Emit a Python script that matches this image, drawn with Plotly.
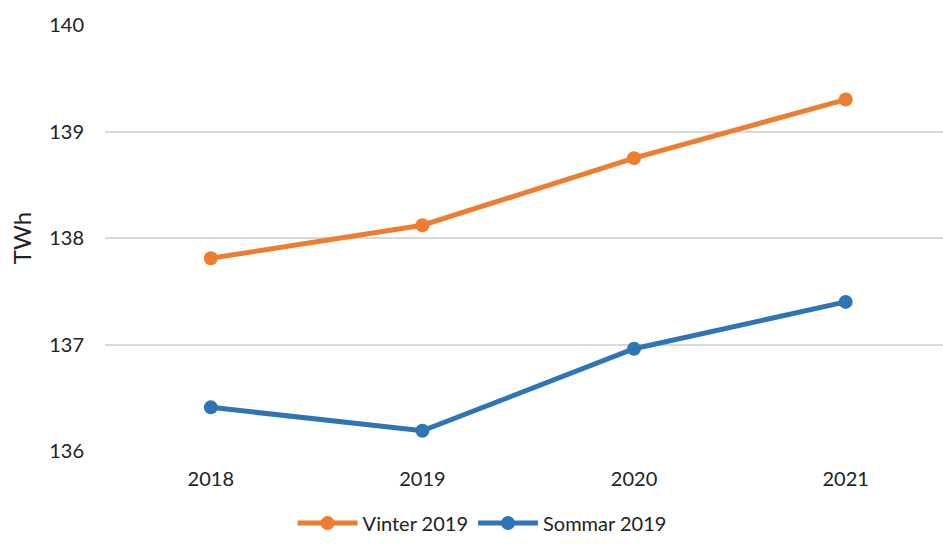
import plotly.graph_objects as go

years = ["2018", "2019", "2020", "2021"]
vinter = [137.81, 138.12, 138.75, 139.30]
sommar = [136.41, 136.19, 136.96, 137.40]
y_ticks = [136, 137, 138, 139, 140]

fig = go.Figure()
fig.add_trace(go.Scatter(x=years, y=vinter, name="Vinter 2019", mode="lines+markers",
                         line=dict(color="#ED7D31", width=5), marker=dict(size=14, color="#ED7D31")))
fig.add_trace(go.Scatter(x=years, y=sommar, name="Sommar 2019", mode="lines+markers",
                         line=dict(color="#2E75B6", width=5), marker=dict(size=14, color="#2E75B6")))

fig.update_layout(
    width=943, height=545,
    margin=dict(l=105, r=0, t=25, b=94),
    paper_bgcolor="white", plot_bgcolor="white",
    font=dict(family="Lato, Open Sans, sans-serif", size=20, color="#222"),
    xaxis=dict(type="category", range=[-0.5, 3.46], showgrid=False, showline=False,
               ticks="", tickfont=dict(size=20), ticklabelstandoff=14),
    yaxis=dict(range=[136, 140], tickvals=y_ticks, showgrid=True, gridcolor="#D9D9D9",
               gridwidth=2, zeroline=False, showline=False, ticks="", ticklen=0,
               ticklabelstandoff=20,
               title=dict(text="TWh", standoff=10), tickfont=dict(size=20)),
    legend=dict(orientation="h", x=0.45, xanchor="center", y=-0.215, yanchor="bottom",
                font=dict(size=20), itemwidth=60, tracegroupgap=0),
    showlegend=True,
)

fig.write_html("out.html")
